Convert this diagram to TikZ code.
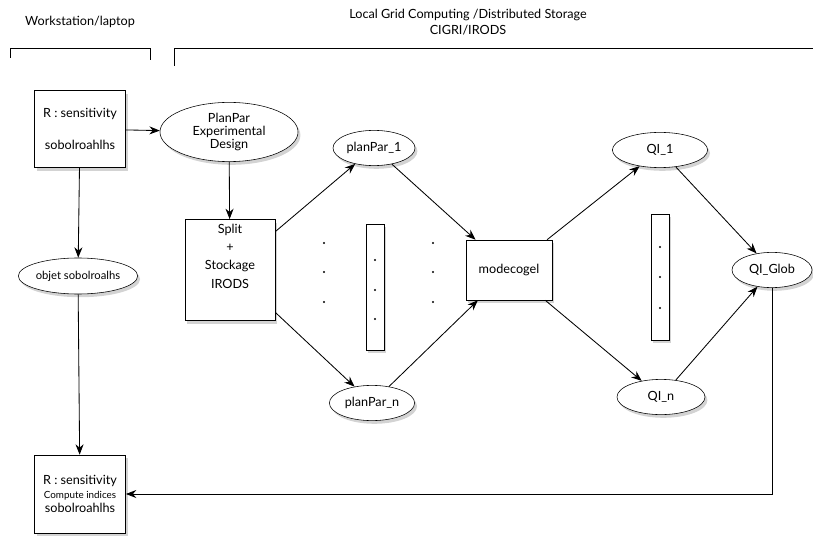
\documentclass[tikz,border=0pt]{standalone}
\usepackage{fontspec}
\setmainfont{Lato}
\usepackage{tikz}
\usetikzlibrary{shapes,arrows,arrows.meta,positioning,shadows}

\begin{document}
\begin{tikzpicture}[
    x=0.025cm, y=-0.025cm,
    box/.style={rectangle, draw, fill=white, drop shadow={opacity=0.35, shadow xshift=0.6mm, shadow yshift=-0.8mm}, align=center, font=\small, inner sep=1pt},
    oval/.style={ellipse, draw, fill=white, drop shadow={opacity=0.35, shadow xshift=0.6mm, shadow yshift=-0.8mm}, align=center, font=\small, inner sep=0pt, minimum height=0.88cm},
    bar/.style={rectangle, draw, fill=white, drop shadow={opacity=0.35, shadow xshift=0.6mm, shadow yshift=-0.8mm}, minimum width=0.45cm, minimum height=3.15cm, inner sep=0pt},
    arrow/.style={->, >={Stealth[length=2.6mm, width=2mm]}, semithick}
]
    \useasboundingbox (0,0) rectangle (813,537);

    % headers and brackets
    \node[font=\small] (ws) at (80,22) {Workstation/laptop};
    \node[font=\small, align=center] (grid) at (468,22) {Local Grid Computing /Distributed Storage\\CIGRI/IRODS};
    \draw[thin] (10,58) -- (10,48) -- (150,48) -- (150,60);
    \draw[thin] (174,66) -- (174,48) -- (813,48);

    % left column
    \node[box, minimum width=2.28cm, minimum height=1.93cm] (rsens) at (80,129) {R : sensitivity\\[4mm]sobolroahlhs};
    \node[oval, minimum width=2.6cm, minimum height=0.9cm, font=\footnotesize] (objet) at (78,276) {objet sobolroalhs};
    \node[box, minimum width=2.28cm, minimum height=1.95cm] (rcomp) at (80,494) {R : sensitivity\\[-1pt]{\scriptsize Compute indices}\\[-1pt]sobolroahlhs};

    % design and split
    \node[oval, minimum width=3.45cm, minimum height=1.48cm] (plan) at (229,132) {PlanPar\\[-2pt]Experimental\\[-2pt]Design};
    \node[box, minimum width=2.25cm, minimum height=2.53cm] (split) at (230,270) {Split\\[2pt]+\\[2pt]Stockage\\[2pt]IRODS\\[9pt]\mbox{}};

    % parameter sets
    \node[oval, minimum width=2.05cm] (pp1) at (374,148) {planPar\_1};
    \node[oval, minimum width=2.13cm] (ppn) at (372,403) {planPar\_n};
    \node[bar] (bar1) at (375,287) {};

    % model
    \node[box, minimum width=2.15cm, minimum height=1.5cm] (model) at (509,270) {modecogel};

    % outputs
    \node[oval, minimum width=2.38cm] (qi1) at (660,150) {QI\_1};
    \node[oval, minimum width=2.2cm] (qin) at (661,397) {QI\_n};
    \node[bar] (bar2) at (660,277) {};
    \node[oval, minimum width=2.0cm] (qiglob) at (772,270) {QI\_Glob};

    % dots
    \foreach \y in {243,272,302} {
        \fill (324,\y) circle (1.1);
        \fill (433,\y) circle (1.1);
    }
    \foreach \y in {260,290,319} \fill (375,\y) circle (1.1);
    \foreach \y in {247,277,308} \fill (660,\y) circle (1.1);

    % connectors
    \draw[arrow] (rsens) -- (plan);
    \draw[arrow] (rsens) -- (objet);
    \draw[arrow] (objet) -- (rcomp);
    \draw[arrow] (plan) -- (split);
    \draw[arrow] (split) -- (pp1);
    \draw[arrow] (split) -- (ppn);
    \draw[arrow] (pp1) -- (model);
    \draw[arrow] (ppn) -- (model);
    \draw[arrow] (model) -- (qi1);
    \draw[arrow] (model) -- (qin);
    \draw[arrow] (qi1) -- (qiglob);
    \draw[arrow] (qin) -- (qiglob);
    \draw[arrow] (qiglob.south) |- (rcomp.east);
\end{tikzpicture}
\end{document}
